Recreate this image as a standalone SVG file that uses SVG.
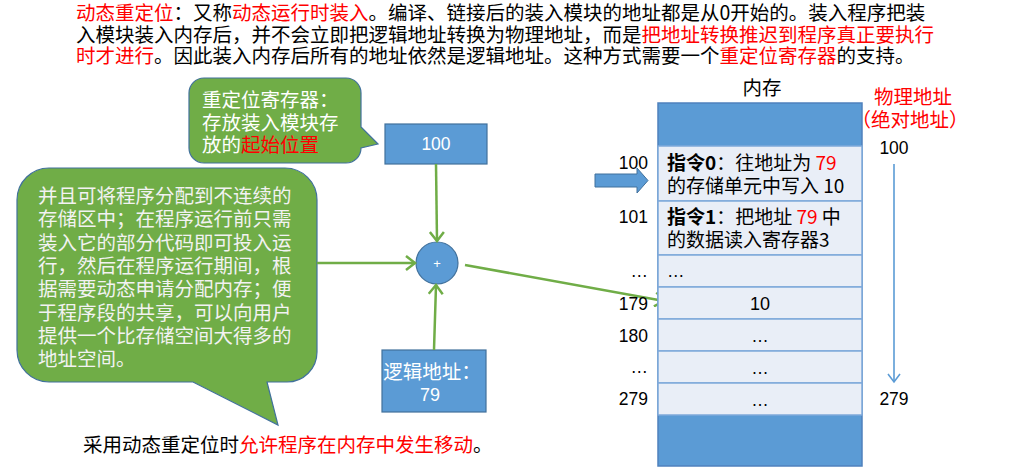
<svg xmlns="http://www.w3.org/2000/svg" width="1032" height="469" viewBox="0 0 1032 469">
<style>
.cjk{font-family:"Noto Sans CJK SC","Noto Sans",sans-serif;font-size:19.5px}
.num{font-family:"Liberation Sans",Arial,sans-serif;font-size:17.5px;fill:#000}
.red{fill:#FF0000}
.wt{fill:#FFFFFF}
.bubble{fill:#70AD47;stroke:#41719C;stroke-width:1.2}
.box{fill:#5B9BD5;stroke:#41719C;stroke-width:1.2}
.row{fill:#E9EEF7;stroke:#7EA9DA;stroke-width:1.5}
.conn{fill:none;stroke:#70AD47;stroke-width:2.5;marker-end:url(#ga)}
</style>
<defs>
<marker id="ga" markerUnits="userSpaceOnUse" markerWidth="14" markerHeight="16" refX="11" refY="8" orient="auto">
<path d="M2,1 L11,8 L2,15" fill="none" stroke="#70AD47" stroke-width="2.5"/>
</marker>
<marker id="ba" markerUnits="userSpaceOnUse" markerWidth="14" markerHeight="14" refX="10" refY="7" orient="auto">
<path d="M2,1 L10,7 L2,13" fill="none" stroke="#5B9BD5" stroke-width="1.6"/>
</marker>
</defs>

<g id="intro-text" class="cjk" fill="#000">
<text x="76" y="20"><tspan class="red">动态重定位</tspan>：又称<tspan class="red">动态运行时装入</tspan>。编译、链接后的装入模块的地址都是从0开始的。装入程序把装</text>
<text x="76" y="42">入模块装入内存后，并不会立即把逻辑地址转换为物理地址，而是<tspan class="red">把地址转换推迟到程序真正要执行</tspan></text>
<text x="76" y="63"><tspan class="red">时才进行</tspan>。因此装入内存后所有的地址依然是逻辑地址。这种方式需要一个<tspan class="red">重定位寄存器</tspan>的支持。</text>
</g>

<g id="callout-register">
<path class="bubble" d="M204,78 H346 A15,15 0 0 1 361,93 V127 L378,144 L361,148 A15,15 0 0 1 346,163 H204 A15,15 0 0 1 189,148 V93 A15,15 0 0 1 204,78 Z"/>
<text class="cjk wt" x="202" y="107">重定位寄存器：</text>
<text class="cjk wt" x="202" y="130">存放装入模块存</text>
<text class="cjk wt" x="202" y="152">放的<tspan class="red">起始位置</tspan></text>
</g>

<g id="callout-note">
<path class="bubble" d="M50,168 H285 A32,32 0 0 1 317,200 V352 A30,30 0 0 1 287,382 H267 L278,425 L193,382 H49 A32,32 0 0 1 17,350 V200 A32,32 0 0 1 50,168 Z"/>
<g class="cjk" fill="#F2F2F2">
<text x="38" y="203">并且可将程序分配到不连续的</text>
<text x="38" y="226.3">存储区中；在程序运行前只需</text>
<text x="38" y="249.6">装入它的部分代码即可投入运</text>
<text x="38" y="272.9">行，然后在程序运行期间，根</text>
<text x="38" y="296.2">据需要动态申请分配内存；便</text>
<text x="38" y="319.5">于程序段的共享，可以向用户</text>
<text x="38" y="342.8">提供一个比存储空间大得多的</text>
<text x="38" y="366.1">地址空间。</text>
</g>
</g>

<g id="reg-box">
<rect class="box" x="385" y="124" width="102" height="40"/>
<text class="num" x="436" y="150" text-anchor="middle" style="fill:#fff">100</text>
</g>

<g id="adder">
<circle class="box" cx="437" cy="263" r="21"/>
<text x="437" y="268" text-anchor="middle" font-family="Liberation Sans, Arial, sans-serif" font-size="13" fill="#fff">+</text>
</g>

<g id="logic-box">
<rect class="box" x="382" y="350" width="104" height="62"/>
<text class="cjk wt" x="432" y="379" text-anchor="middle">逻辑地址：</text>
<text class="num" x="430" y="401" text-anchor="middle" style="fill:#fff;font-size:18px">79</text>
</g>

<g id="connectors">
<line class="conn" x1="436" y1="164" x2="437" y2="241"/>
<line class="conn" x1="317" y1="263" x2="415" y2="263"/>
<line class="conn" x1="434" y1="350" x2="436" y2="285"/>
<line class="conn" x1="465" y1="265" x2="664" y2="301"/>
<line x1="894" y1="164" x2="894" y2="382" stroke="#5B9BD5" stroke-width="1.6" marker-end="url(#ba)"/>
<polygon points="595,174 637,174 637,168 648,180.5 637,193 637,187 595,187" fill="#5B9BD5" stroke="#41719C" stroke-width="1"/>
</g>

<g id="memory">
<text class="cjk" x="762" y="95" text-anchor="middle" fill="#000">内存</text>
<rect x="658" y="103" width="204" height="363" fill="#5B9BD5" stroke="#4F81BD" stroke-width="1.5"/>
<rect class="row" x="658" y="146" width="204" height="55"/>
<rect class="row" x="658" y="201" width="204" height="54"/>
<rect class="row" x="658" y="255" width="204" height="32"/>
<rect class="row" x="658" y="287" width="204" height="32"/>
<rect class="row" x="658" y="319" width="204" height="32"/>
<rect class="row" x="658" y="351" width="204" height="32"/>
<rect class="row" x="658" y="383" width="204" height="32"/>
<g class="cjk" fill="#000" style="font-size:19px">
<text x="667" y="170"><tspan font-weight="bold">指令0</tspan>：往地址为 <tspan class="red">79</tspan></text>
<text x="667" y="193">的存储单元中写入 10</text>
<text x="667" y="224"><tspan font-weight="bold">指令1</tspan>：把地址 <tspan class="red">79</tspan> 中</text>
<text x="667" y="247">的数据读入寄存器3</text>
</g>
<text class="num" x="667" y="277">…</text>
<text class="num" x="760" y="310" text-anchor="middle" style="font-size:18px">10</text>
<text class="num" x="760" y="342" text-anchor="middle">…</text>
<text class="num" x="760" y="374" text-anchor="middle">…</text>
<text class="num" x="760" y="406" text-anchor="middle">…</text>
</g>

<g id="addr-labels" class="num" text-anchor="end">
<text x="648" y="169">100</text>
<text x="648" y="223">101</text>
<text x="648" y="277">…</text>
<text x="648" y="310">179</text>
<text x="648" y="342">180</text>
<text x="648" y="373">…</text>
<text x="648" y="405">279</text>
</g>

<g id="phys-labels">
<text class="cjk red" x="913" y="104" text-anchor="middle">物理地址</text>
<text class="cjk red" x="910" y="127" text-anchor="middle">（绝对地址）</text>
<text class="num" x="894" y="154" text-anchor="middle">100</text>
<text class="num" x="894" y="405" text-anchor="middle">279</text>
</g>

<g id="footer-text">
<text class="cjk" x="83" y="452" fill="#000">采用动态重定位时<tspan class="red">允许程序在内存中发生移动</tspan>。</text>
</g>
</svg>
